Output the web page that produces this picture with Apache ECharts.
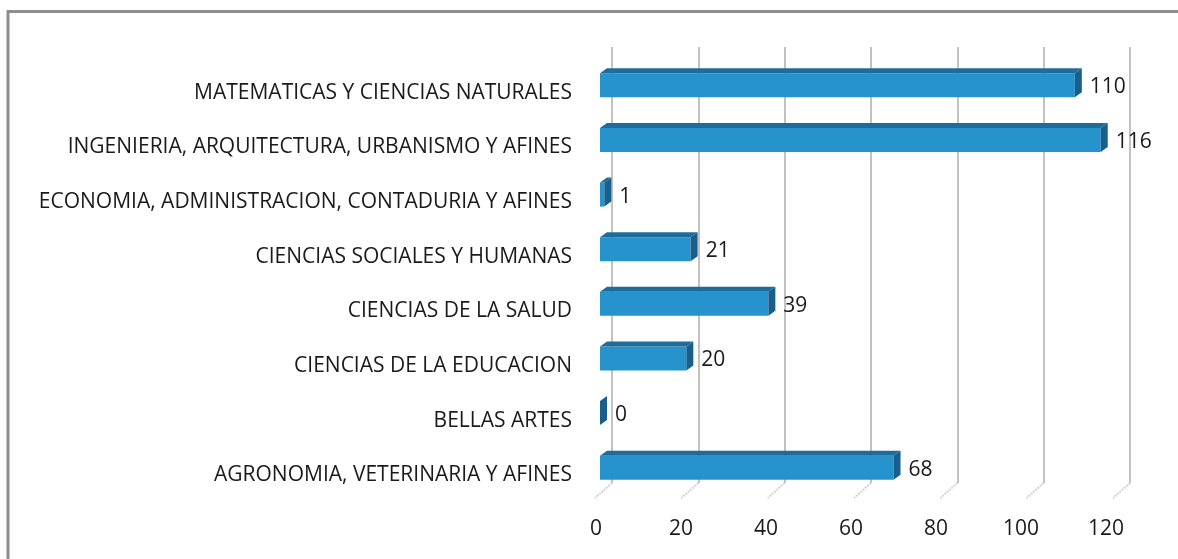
<!DOCTYPE html>
<html>
<head>
<meta charset="utf-8">
<script src="https://cdn.jsdelivr.net/npm/echarts@6/dist/echarts.min.js"></script>
<style>
html,body{margin:0;padding:0;background:#fff;}
#chart{width:1178px;height:559px;}
</style>
</head>
<body>
<div id="chart"></div>
<script>
const categories = [
  'MATEMATICAS Y CIENCIAS NATURALES',
  'INGENIERIA, ARQUITECTURA, URBANISMO Y AFINES',
  'ECONOMIA, ADMINISTRACION, CONTADURIA Y AFINES',
  'CIENCIAS SOCIALES Y HUMANAS',
  'CIENCIAS DE LA SALUD',
  'CIENCIAS DE LA EDUCACION',
  'BELLAS ARTES',
  'AGRONOMIA, VETERINARIA Y AFINES'
];
const values = [110, 116, 1, 21, 39, 20, 0, 68];
const tickValues = [0, 20, 40, 60, 80, 100, 120];

const FONT = '"Open Sans", "Noto Sans", sans-serif';
const TEXT_COLOR = '#1a1a1a';
const FRONT = '#2693cc';
const TOP = '#1f6c9b';
const SIDE = '#1a5f8c';

const chart = echarts.init(document.getElementById('chart'), null, {renderer: 'canvas'});

const option = {
  animation: false,
  backgroundColor: '#ffffff',
  graphic: [{
    type: 'rect',
    shape: {x: 8, y: 11.5, width: 1300, height: 700},
    style: {fill: 'none', stroke: '#8e8e8e', lineWidth: 3},
    silent: true,
    z: 100
  }],
  grid: [
    {left: 600, top: 58, width: 518, height: 437},
    {left: 612, top: 47, width: 518, height: 436},
    {left: 596, top: 58, width: 510, height: 437}
  ],
  xAxis: [
    {gridIndex: 0, type: 'value', min: 0, max: 120, interval: 20, show: false},
    {gridIndex: 1, type: 'value', min: 0, max: 120, interval: 20,
      axisLine: {show: false}, axisTick: {show: false}, axisLabel: {show: false},
      splitLine: {show: true, lineStyle: {color: '#c2c2c2', width: 2}}},
    {gridIndex: 2, type: 'value', min: 0, max: 120, interval: 20,
      axisLine: {show: false}, axisTick: {show: false}, splitLine: {show: false},
      axisLabel: {show: true, fontSize: 21, fontFamily: FONT, color: TEXT_COLOR, margin: 24}}
  ],
  yAxis: [
    {gridIndex: 0, type: 'category', inverse: true, data: categories,
      axisLine: {show: false}, axisTick: {show: false}, splitLine: {show: false},
      axisLabel: {fontSize: 21, fontFamily: FONT, color: TEXT_COLOR, margin: 28,
        verticalAlign: 'top', lineHeight: 15}},
    {gridIndex: 1, type: 'value', min: 0, max: 1, show: false},
    {gridIndex: 2, type: 'value', min: 0, max: 1, show: false}
  ],
  series: [
    {
      type: 'custom',
      xAxisIndex: 1, yAxisIndex: 1,
      silent: true,
      data: tickValues.map(v => [v, 0]),
      renderItem: function (params, api) {
        const p = api.coord([api.value(0), api.value(1)]);
        return {
          type: 'line',
          shape: {x1: p[0], y1: p[1], x2: p[0] - 17, y2: p[1] + 15},
          style: {stroke: '#d2d2d2', lineWidth: 2, lineDash: [2, 1]}
        };
      },
      z: 1
    },
    {
      type: 'custom',
      xAxisIndex: 0, yAxisIndex: 0,
      silent: true,
      data: values.map((v, i) => [v, i]),
      encode: {x: 0, y: 1},
      renderItem: function (params, api) {
        const v = api.value(0);
        const idx = api.value(1);
        const s = api.coord([0, idx]);
        const e = api.coord([v, idx]);
        const band = api.size([0, 1])[1];
        const h = band * 0.44;
        const dx = 7, dy = 5;
        const x0 = s[0], x1 = e[0], yc = s[1];
        const top = yc - h / 2;
        return {
          type: 'group',
          children: [
            {type: 'rect', shape: {x: x0, y: top, width: x1 - x0, height: h}, style: {fill: FRONT}},
            {type: 'polygon', shape: {points: [[x0, top], [x0 + dx, top - dy], [x1 + dx, top - dy], [x1, top]]}, style: {fill: TOP}},
            {type: 'polygon', shape: {points: [[x1, top], [x1 + dx, top - dy], [x1 + dx, top + h - dy], [x1, top + h]]}, style: {fill: SIDE}},
            {type: 'text', x: x1 + 15, y: yc + 2,
              style: {text: String(v), fill: TEXT_COLOR, font: '21px ' + FONT, textVerticalAlign: 'middle', textAlign: 'left'}}
          ]
        };
      },
      z: 5
    }
  ]
};
chart.setOption(option);
</script>
</body>
</html>
